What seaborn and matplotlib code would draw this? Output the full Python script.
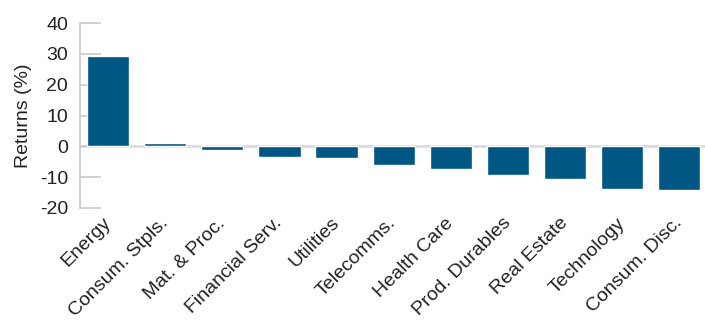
import numpy as np
import pandas as pd
import matplotlib
matplotlib.use("Agg")
import matplotlib.pyplot as plt
import seaborn as sns

# Sector returns (%)
sectors = ["Energy", "Consum. Stpls.", "Mat. & Proc.", "Financial Serv.", "Utilities",
           "Telecomms.", "Health Care", "Prod. Durables", "Real Estate", "Technology",
           "Consum. Disc."]
returns = [29.3, 1.0, -1.1, -3.3, -3.9, -6.2, -7.5, -9.2, -10.5, -13.7, -14.1]
y_ticks = [-20, -10, 0, 10, 20, 30, 40]

BAR_COLOR = "#005784"
GREY = "#c9c9c9"
TEXT = "#222222"

sns.set_theme(style="white")
plt.rcParams['font.family'] = ['Liberation Sans', 'DejaVu Sans']
plt.rcParams['axes.unicode_minus'] = False

df = pd.DataFrame({"Sector": sectors, "Return": returns})

fig = plt.figure(figsize=(7.05, 3.23), dpi=100)
ax = fig.add_axes([80 / 705, 1 - 208 / 323, 625 / 705, 185 / 323])

sns.barplot(data=df, x="Sector", y="Return", color=BAR_COLOR, width=0.74,
            saturation=1, ax=ax)

ax.axhline(0, color="#dcdcdc", lw=2, zorder=0)
ax.set_ylim(-20, 40)
ax.set_xlim(-0.49, 10.45)
ax.set_yticks(y_ticks)
ax.set_xlabel("")
ax.set_ylabel("Returns (%)", fontsize=14, color=TEXT)
ax.yaxis.set_label_coords(-0.077, 0.5)

for side in ["top", "right", "bottom"]:
    ax.spines[side].set_visible(False)
ax.spines["left"].set_color(GREY)
ax.spines["left"].set_linewidth(1.2)

ax.tick_params(axis="y", direction="in", length=15, width=1.2, color=GREY,
               labelsize=14, labelcolor=TEXT, pad=8.5, left=True)
ax.tick_params(axis="x", length=0, labelsize=14, labelcolor=TEXT, pad=9)

for lab in ax.get_xticklabels():
    lab.set_rotation(45)
    lab.set_ha("right")
    lab.set_va("center")
    lab.set_rotation_mode("anchor")

fig.savefig("out.png", dpi=100)
